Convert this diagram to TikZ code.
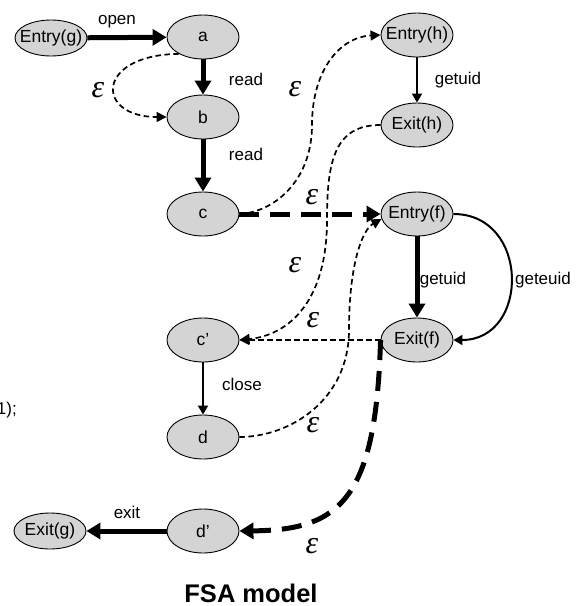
\documentclass[tikz,border=0pt]{standalone}
\usepackage{fontspec}
\setmainfont{Liberation Sans}
\newfontfamily\epsfont{Liberation Serif}
\usetikzlibrary{shapes.geometric,arrows.meta}
\definecolor{statefill}{RGB}{212,212,212}
% state labels take no room, so every ellipse keeps its given size
\newcommand\stxt[1]{\makebox[0pt]{#1}}
\begin{document}
\begin{tikzpicture}[x=1pt,y=-1pt,
  state/.style={ellipse,draw=black,line width=0.9pt,fill=statefill,
    minimum width=72pt,minimum height=44pt,inner sep=0pt,
    font=\fontsize{17.5}{20}\selectfont},
  flat/.style={state,minimum height=36pt},
  lbl/.style={inner sep=0pt,font=\fontsize{17}{20}\selectfont},
  eps/.style={inner sep=0pt,font=\fontsize{32}{32}\selectfont\epsfont\itshape},
  heavy/.style={line width=5pt,-{Triangle[length=14pt,width=16pt]}},
  medium/.style={line width=2pt,-{Triangle[length=9pt,width=10pt]}},
  hop/.style={line width=1.7pt,dash pattern=on 5.5pt off 3.5pt,
    -{Triangle[length=10pt,width=10pt]}},
  bighop/.style={line width=5pt,dash pattern=on 20pt off 11pt,
    -{Triangle[length=14pt,width=16pt]}},
]
\useasboundingbox (0,0) rectangle (577,606);

% states of g
\node[flat]  (eg) at (51,38)   {\stxt{Entry(g)}};
\node[state] (a)  at (203,37)  {\stxt{a}};
\node[state] (b)  at (203,117) {\stxt{b}};
\node[state] (c)  at (203,214) {\stxt{c}};
\node[state] (cp) at (203,340) {\stxt{c’}};
\node[state] (d)  at (203,437) {\stxt{d}};
\node[state] (dp) at (203,531) {\stxt{d’}};
\node[flat]  (xg) at (50,531)  {\stxt{Exit(g)}};
% states of h and f
\node[state] (eh) at (417,35)  {\stxt{Entry(h)}};
\node[state] (xh) at (417,125) {\stxt{Exit(h)}};
\node[state] (ef) at (417,214) {\stxt{Entry(f)}};
\node[state] (xf) at (417,340) {\stxt{Exit(f)}};

% ordinary transitions
\draw[heavy] (eg) -- (a);
\draw[heavy] (a) -- (b);
\draw[heavy] (b) -- (c);
\draw[medium] (eh) -- (xh);
\draw[heavy] (ef) -- (xf);
\draw[medium] (ef.east) .. controls (530,214) and (530,340) .. (xf.east);
\draw[medium] (cp) -- (d);
\draw[heavy] (dp) -- (xg);

% epsilon transitions
\draw[hop] (a.215) .. controls (95,55) and (95,117) .. (b.west);
\draw[hop] (c.east) .. controls (275,212) and (312,180) .. (312,125)
  .. controls (312,70) and (340,37) .. (eh.west);
\draw[hop] (xh.west) .. controls (335,125) and (327,160) .. (327,220)
  .. controls (327,300) and (290,335) .. (cp.east);
\draw[bighop] (c) -- (ef);
\draw[hop] (xf) -- (cp);
\draw[hop] (d.east) .. controls (290,437) and (349,400) .. (349,330)
  .. controls (349,265) and (362,230) .. (ef.188);
\draw[bighop] (xf.west) .. controls (376,500) and (340,530) .. (dp.east);

% transition labels
\node[lbl] (lopen)  at (117,22)  {open};
\node[lbl] (lread1) at (246,79)  {read};
\node[lbl] (lread2) at (246,154) {read};
\node[lbl] (lgeth)  at (458,80)  {getuid};
\node[lbl] (lgetf)  at (443,280) {getuid};
\node[lbl] (lgete)  at (543,280) {geteuid};
\node[lbl] (lclose) at (242,384) {close};
\node[lbl] (lexit)  at (127,512) {exit};

\node[eps] (e1) at (98,90)   {ε};
\node[eps] (e2) at (295,89)  {ε};
\node[eps] (e3) at (312,197) {ε};
\node[eps] (e4) at (295,265) {ε};
\node[eps] (e5) at (313,320) {ε};
\node[eps] (e6) at (313,425) {ε};
\node[eps] (e7) at (312,546) {ε};

% fragment of a code line at the left edge
\node[lbl,anchor=base east] (frag) at (17,414) {1);};

% caption
\node[inner sep=0pt,font=\fontsize{25.5}{28}\selectfont\bfseries] (cap) at (251,593) {FSA model};
\end{tikzpicture}
\end{document}
